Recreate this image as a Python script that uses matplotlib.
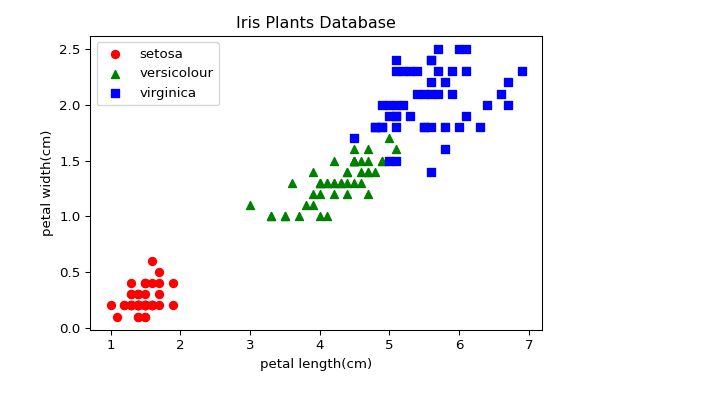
import matplotlib
matplotlib.use("Agg")
import matplotlib.pyplot as plt

# Iris petal measurements (length, width) per class
setosa_len = [1.4, 1.4, 1.3, 1.5, 1.4, 1.7, 1.4, 1.5, 1.4, 1.5,
              1.5, 1.6, 1.4, 1.1, 1.2, 1.5, 1.3, 1.4, 1.7, 1.5,
              1.7, 1.5, 1.0, 1.7, 1.9, 1.6, 1.6, 1.5, 1.4, 1.6,
              1.6, 1.5, 1.5, 1.4, 1.5, 1.2, 1.3, 1.4, 1.3, 1.5,
              1.3, 1.3, 1.3, 1.6, 1.9, 1.4, 1.6, 1.4, 1.5, 1.4]
setosa_wid = [0.2, 0.2, 0.2, 0.2, 0.2, 0.4, 0.3, 0.2, 0.2, 0.1,
              0.2, 0.2, 0.1, 0.1, 0.2, 0.4, 0.4, 0.3, 0.3, 0.3,
              0.2, 0.4, 0.2, 0.5, 0.2, 0.2, 0.4, 0.2, 0.2, 0.2,
              0.2, 0.4, 0.1, 0.2, 0.2, 0.2, 0.2, 0.1, 0.2, 0.2,
              0.3, 0.3, 0.2, 0.6, 0.4, 0.3, 0.2, 0.2, 0.2, 0.2]
versi_len = [4.7, 4.5, 4.9, 4.0, 4.6, 4.5, 4.7, 3.3, 4.6, 3.9,
             3.5, 4.2, 4.0, 4.7, 3.6, 4.4, 4.5, 4.1, 4.5, 3.9,
             4.8, 4.0, 4.9, 4.7, 4.3, 4.4, 4.8, 5.0, 4.5, 3.5,
             3.8, 3.7, 3.9, 5.1, 4.5, 4.5, 4.7, 4.4, 4.1, 4.0,
             4.4, 4.6, 4.0, 3.3, 4.2, 4.2, 4.2, 4.3, 3.0, 4.1]
versi_wid = [1.4, 1.5, 1.5, 1.3, 1.5, 1.3, 1.6, 1.0, 1.3, 1.4,
             1.0, 1.5, 1.0, 1.4, 1.3, 1.4, 1.5, 1.0, 1.5, 1.1,
             1.8, 1.3, 1.5, 1.2, 1.3, 1.4, 1.4, 1.7, 1.5, 1.0,
             1.1, 1.0, 1.2, 1.6, 1.5, 1.6, 1.5, 1.3, 1.3, 1.3,
             1.2, 1.4, 1.2, 1.0, 1.3, 1.2, 1.3, 1.3, 1.1, 1.3]
virg_len = [6.0, 5.1, 5.9, 5.6, 5.8, 6.6, 4.5, 6.3, 5.8, 6.1,
            5.1, 5.3, 5.5, 5.0, 5.1, 5.3, 5.5, 6.7, 6.9, 5.0,
            5.7, 4.9, 6.7, 4.9, 5.7, 6.0, 4.8, 4.9, 5.6, 5.8,
            6.1, 6.4, 5.6, 5.1, 5.6, 6.1, 5.6, 5.5, 4.8, 5.4,
            5.6, 5.1, 5.1, 5.9, 5.7, 5.2, 5.0, 5.2, 5.4, 5.1]
virg_wid = [2.5, 1.9, 2.1, 1.8, 2.2, 2.1, 1.7, 1.8, 1.8, 2.5,
            2.0, 1.9, 2.1, 2.0, 2.4, 2.3, 1.8, 2.2, 2.3, 1.5,
            2.3, 2.0, 2.0, 1.8, 2.1, 1.8, 1.8, 1.8, 2.1, 1.6,
            1.9, 2.0, 2.2, 1.5, 1.4, 2.3, 2.4, 1.8, 1.8, 2.1,
            2.4, 2.3, 1.9, 2.3, 2.5, 2.3, 1.9, 2.0, 2.3, 1.8]

DPI = 96
fig = plt.figure(figsize=(718 / DPI, 393 / DPI), dpi=DPI)
ax = fig.add_axes([0.1253, 0.1603, 0.630, 0.749])

ax.scatter(setosa_len, setosa_wid, c="red", marker="o", label="setosa")
ax.scatter(versi_len, versi_wid, c="green", marker="^", label="versicolour")
ax.scatter(virg_len, virg_wid, c="blue", marker="s", label="virginica")

ax.set_xlabel("petal length(cm)")
ax.set_ylabel("petal width(cm)")
ax.set_title("Iris Plants Database")
ax.legend(loc="upper left")

fig.savefig("out.png")
